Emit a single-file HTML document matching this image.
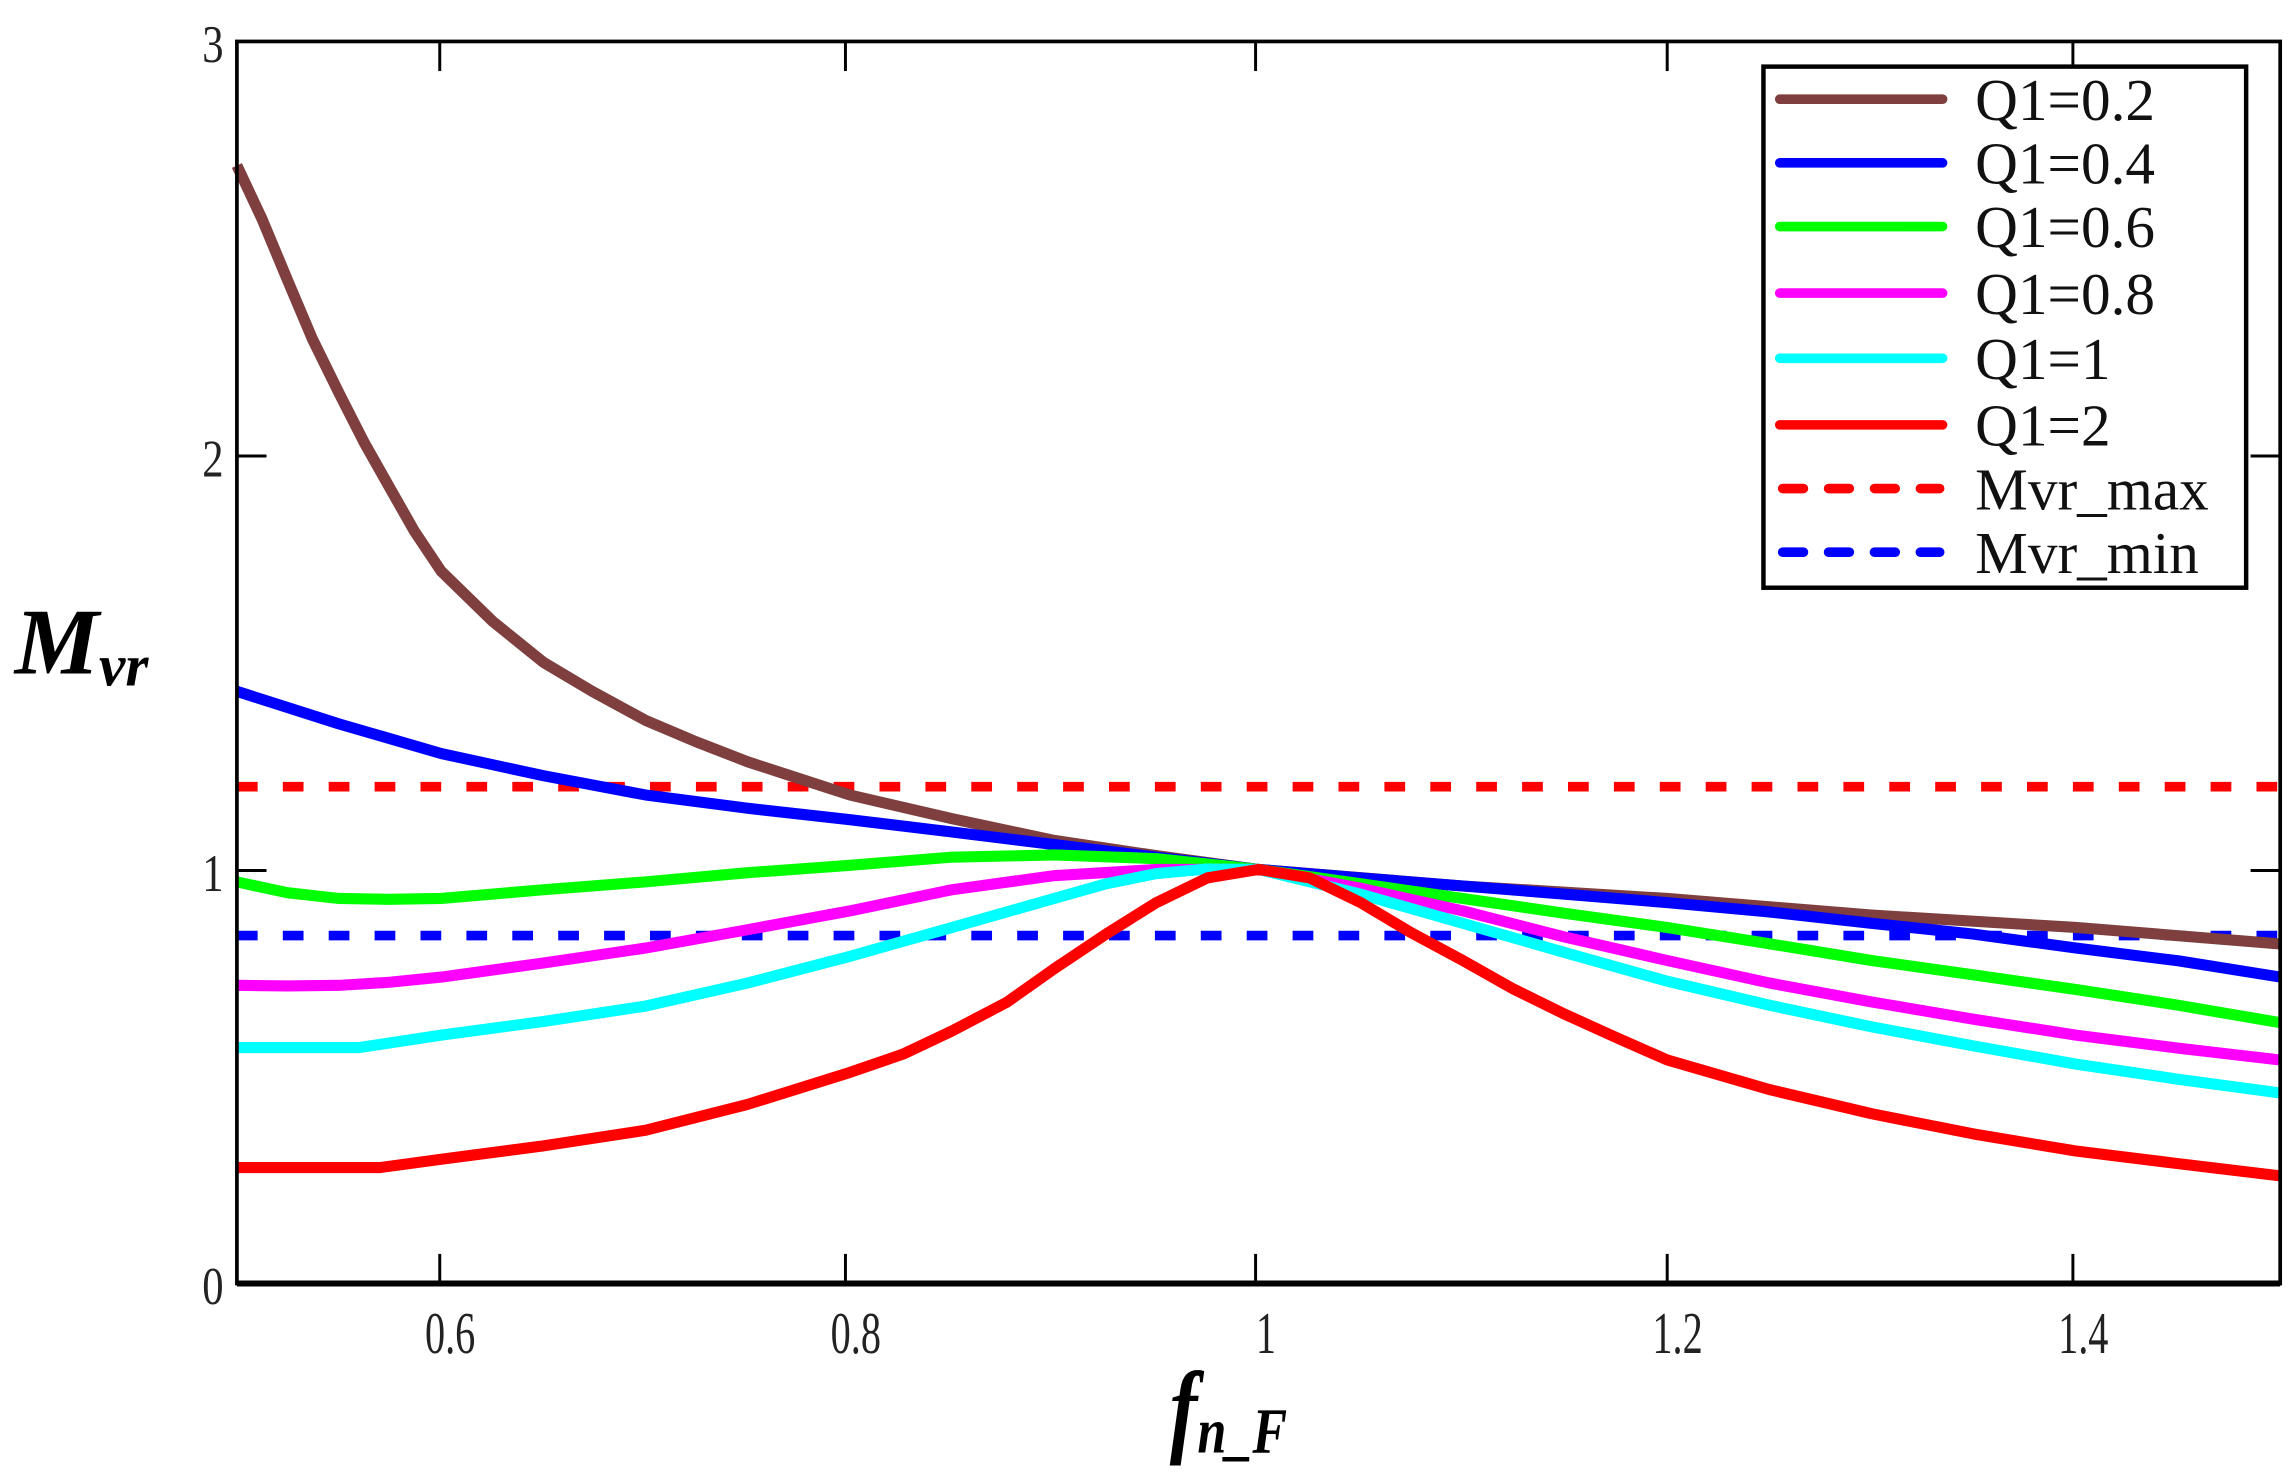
<!DOCTYPE html>
<html><head><meta charset="utf-8"><style>html,body{margin:0;padding:0;background:#fff}svg{display:block}</style></head>
<body>
<svg width="2295" height="1473" viewBox="0 0 1550 995" preserveAspectRatio="none" xmlns="http://www.w3.org/2000/svg">
<rect width="1550" height="995" fill="#fff"/>
<g fill="none" stroke-width="7.5" stroke-linejoin="round">
<line x1="160" y1="531.4" x2="1540" y2="531.4" stroke="#ff0000" stroke-width="6.5" stroke-dasharray="14,17"/>
<line x1="160" y1="632" x2="1540" y2="632" stroke="#0000ff" stroke-width="6.5" stroke-dasharray="14,17"/>
<polyline stroke="#7f3f3f" points="160,111.8 177,148 194.5,190 211,229 229,265.6 246,299 263.5,330 280,359 298,385.9 332.5,419.5 367,447.4 400,467 436,486.6 470,501 505,514.6 540,526 574,537 643,553 712,567.7 781,578 850,587.3 988,598.5 1126,606.9 1264,618.1 1402,626.5 1540,637.6"/>
<polyline stroke="#0000ff" points="160,467 229,489 298,509 367,524 436,537 505,546 574,553.7 643,562 712,570.5 781,579 850,587.3 919,593 988,598.5 1057,604 1126,609.7 1195,616 1264,623.7 1333,631 1402,640.4 1471,649 1540,660"/>
<polyline stroke="#00ff00" points="160,595.7 194,603 229,606.9 263,607.5 298,606.9 367,601 436,595.7 505,589.5 574,584.5 643,579 712,577.5 781,580 850,587.3 919,597 988,606.9 1057,617 1126,626.5 1195,637.5 1264,648.8 1333,658.5 1402,668.4 1471,679 1540,690.8"/>
<polyline stroke="#ff00ff" points="160,665.6 194,666 229,665.6 263,663.5 298,660 367,650.5 436,640.4 505,628 574,615.3 643,601 712,591.5 781,587.3 850,587.3 919,600 988,615.3 1057,633 1126,648.8 1195,664 1264,676.8 1333,688.5 1402,699.2 1471,708 1540,716"/>
<polyline stroke="#00ffff" points="160,707.6 242.8,707.6 298,699.2 367,690 436,679.6 505,664 574,646 643,626.5 712,606.9 747,597 781,590.1 815,587 850,587.3 919,604 988,623.7 1057,643.5 1126,662.8 1195,679 1264,693.6 1333,706.5 1402,718.8 1471,729 1540,738.3"/>
<polyline stroke="#ff0000" points="160,788.7 256.6,788.7 298,783.1 367,774 436,763.5 505,746 574,724.4 610,712 643,696.4 680,677 712,654.4 747,631 781,609.7 815.5,593 850,587.3 884.5,593 919,609.7 953,630 988,648.8 1022,668 1057,685.2 1092,701 1126,716 1195,736 1264,752.3 1333,766 1402,777.5 1471,786 1540,794.3"/>
</g>
<rect x="160" y="28" width="1380" height="839" fill="none" stroke="#000" stroke-width="2.5"/>
<line x1="160" y1="867" x2="1540" y2="867" stroke="#000" stroke-width="4"/>
<g stroke="#000" stroke-width="2">
<line x1="297" y1="867" x2="297" y2="847"/><line x1="571" y1="867" x2="571" y2="847"/><line x1="848" y1="867" x2="848" y2="847"/><line x1="1126" y1="867" x2="1126" y2="847"/><line x1="1400" y1="867" x2="1400" y2="847"/>
<line x1="297" y1="28" x2="297" y2="48"/><line x1="571" y1="28" x2="571" y2="48"/><line x1="848" y1="28" x2="848" y2="48"/><line x1="1126" y1="28" x2="1126" y2="48"/><line x1="1400" y1="28" x2="1400" y2="48"/>
<line x1="160" y1="308" x2="180" y2="308"/><line x1="160" y1="588" x2="180" y2="588"/>
<line x1="1540" y1="308" x2="1520" y2="308"/><line x1="1540" y1="588" x2="1520" y2="588"/>
</g>
<g font-family="Liberation Serif, serif" font-size="36" fill="#222" text-anchor="end">
<text transform="translate(151,42) scale(0.8,1)">3</text>
<text transform="translate(151,322) scale(0.8,1)">2</text>
<text transform="translate(151,602) scale(0.8,1)">1</text>
<text transform="translate(151,881) scale(0.8,1)">0</text>
</g>
<g font-family="Liberation Serif, serif" font-size="40" fill="#222" text-anchor="middle">
<text transform="translate(304,914) scale(0.68,1)">0.6</text>
<text transform="translate(578,914) scale(0.68,1)">0.8</text>
<text transform="translate(855,914) scale(0.68,1)">1</text>
<text transform="translate(1133,914) scale(0.68,1)">1.2</text>
<text transform="translate(1407,914) scale(0.68,1)">1.4</text>
</g>
<text x="10" y="455" font-family="Liberation Serif, serif" font-weight="bold" font-style="italic" font-size="64">M<tspan font-size="40" dy="8">vr</tspan></text>
<text transform="translate(790,975) scale(0.8,1)" font-family="Liberation Serif, serif" font-weight="bold" font-style="italic" font-size="70">f<tspan font-size="44" dy="6">n_F</tspan></text>
<rect x="1191" y="45" width="326" height="352" fill="#fff" stroke="#000" stroke-width="3"/>
<g stroke-width="6.5" stroke-linecap="round">
<line x1="1202" y1="67" x2="1312" y2="67" stroke="#7f3f3f"/>
<line x1="1202" y1="110" x2="1312" y2="110" stroke="#0000ff"/>
<line x1="1202" y1="153" x2="1312" y2="153" stroke="#00ff00"/>
<line x1="1202" y1="198" x2="1312" y2="198" stroke="#ff00ff"/>
<line x1="1202" y1="242" x2="1312" y2="242" stroke="#00ffff"/>
<line x1="1202" y1="287" x2="1312" y2="287" stroke="#ff0000"/>
<line x1="1204" y1="330" x2="1310" y2="330" stroke="#ff0000" stroke-dasharray="14,17"/>
<line x1="1204" y1="373" x2="1310" y2="373" stroke="#0000ff" stroke-dasharray="14,17"/>
</g>
<g font-family="Liberation Serif, serif" font-size="40" fill="#111">
<text x="1334" y="81">Q1=0.2</text>
<text x="1334" y="124">Q1=0.4</text>
<text x="1334" y="167">Q1=0.6</text>
<text x="1334" y="212">Q1=0.8</text>
<text x="1334" y="256">Q1=1</text>
<text x="1334" y="301">Q1=2</text>
<text x="1334" y="344">Mvr_max</text>
<text x="1334" y="387">Mvr_min</text>
</g>
</svg>
</body></html>
